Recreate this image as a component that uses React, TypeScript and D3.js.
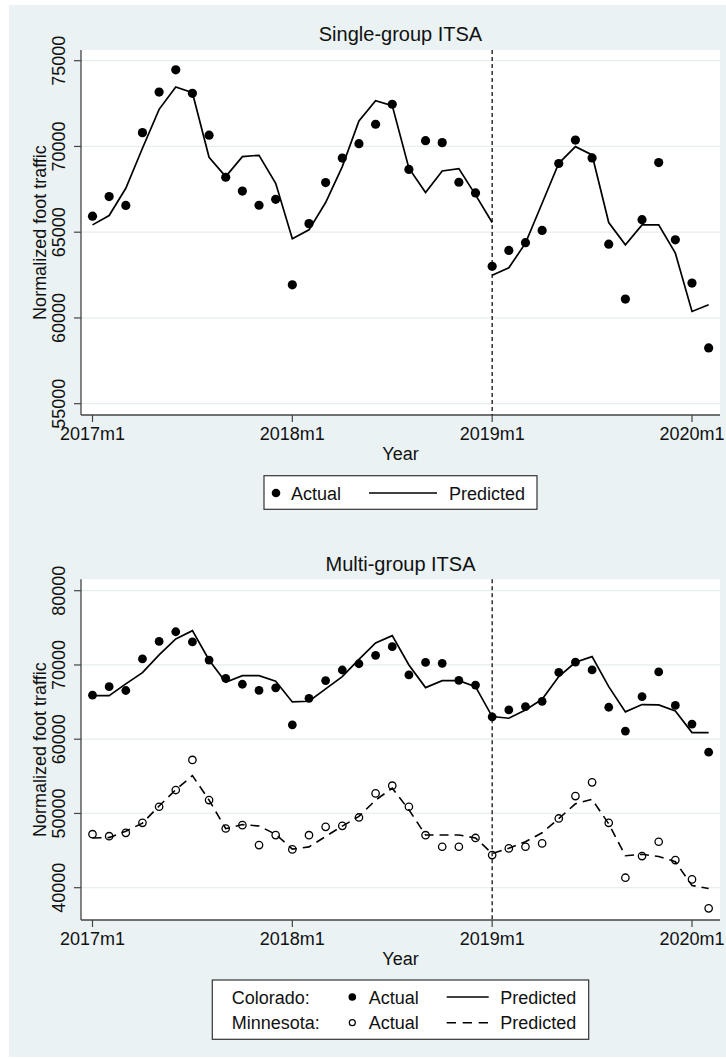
import React from "react";
import * as d3 from "d3";

// ---------- data ----------
const periods = [
  "2017m1","2017m2","2017m3","2017m4","2017m5","2017m6","2017m7","2017m8","2017m9","2017m10","2017m11","2017m12",
  "2018m1","2018m2","2018m3","2018m4","2018m5","2018m6","2018m7","2018m8","2018m9","2018m10","2018m11","2018m12",
  "2019m1","2019m2","2019m3","2019m4","2019m5","2019m6","2019m7","2019m8","2019m9","2019m10","2019m11","2019m12",
  "2020m1","2020m2",
];
const xTickLabels = ["2017m1", "2018m1", "2019m1", "2020m1"];
const interventionPeriod = "2019m1";

const coloradoActual = [
  65935, 67080, 66560, 70806, 73170, 74470, 73096, 70660, 68205, 67400, 66570, 66917,
  61930, 65500, 67893, 69320, 70160, 71295, 72460, 68662, 70336, 70223, 67912, 67290,
  63015, 63940, 64387, 65105, 69006, 70369, 69328, 64303, 61100, 65729, 69058, 64554,
  62036, 58250,
];

// single-group predicted: pre-period (2017m1..2019m1) and post-period (2019m1..2020m2)
const singlePredPre = [
  65427, 65971, 67563, 69893, 72165, 73466, 73136, 69369, 68243, 69408, 69485, 67854,
  64612, 65136, 66728, 68825, 71485, 72670, 72379, 68728, 67311, 68573, 68709, 67175,
  65563,
];
const singlePredPost = [
  62495, 62922, 64359, 66689, 69019, 69990, 69505, 65563, 64262, 65427, 65427, 63777,
  60379, 60767,
];

const coloradoPredicted = [
  65874, 65874, 67444, 68969, 71345, 73498, 74619, 70673, 67668, 68565, 68565, 67803,
  65022, 65112, 66771, 68430, 70762, 72960, 73946, 70000, 66951, 67892, 67892, 67085,
  63049, 62825, 63946, 65381, 68430, 70359, 71121, 67085, 63677, 64664, 64619, 63812,
  60897, 60897,
];

const minnesotaActual = [
  47207, 46937, 47387, 48739, 50901, 53153, 57207, 51802, 47973, 48423, 45740, 47085,
  45157, 47072, 48198, 48333, 49459, 52703, 53739, 50901, 47072, 45516, 45516, 46700,
  44395, 45291, 45516, 45964, 49324, 52342, 54189, 48739, 41345, 44260, 46188, 43722,
  41121, 37220,
];
const minnesotaPredicted = [
  46700, 46750, 47600, 48700, 51000, 53200, 55100, 51800, 47950, 48500, 48300, 47200,
  45200, 45500, 46900, 48300, 49600, 51800, 53400, 50500, 47100, 47100, 47100, 46700,
  44600, 45300, 46200, 47400, 49300, 51300, 51900, 48600, 44300, 44500, 44200, 43500,
  40300, 39900,
];

const topYTicks = [55000, 60000, 65000, 70000, 75000];
const bottomYTicks = [40000, 50000, 60000, 70000, 80000];

// ---------- layout ----------
const W = 726;
const H = 1059;
const BG = "#eaf2f3";
const GRID = "#e6eef0";
const AXIS = "#444";
const FONT = "'Liberation Sans', Arial, Helvetica, sans-serif";
const PLOT_L = 81;
const PLOT_R = 720;

const x = d3
  .scaleLinear()
  .domain([0, 36])
  .range([92.5, 692]);
const xi = (p: string) => x(periods.indexOf(p));

type Panel = {
  top: number;
  bottom: number;
  y: d3.ScaleLinear<number, number>;
  ticks: number[];
  title: string;
  titleY: number;
};

const topPanel: Panel = {
  top: 50,
  bottom: 415,
  y: d3.scaleLinear().domain([55000, 75000]).range([403.7, 60.7]),
  ticks: topYTicks,
  title: "Single-group ITSA",
  titleY: 40.5,
};
const bottomPanel: Panel = {
  top: 579.3,
  bottom: 920,
  y: d3.scaleLinear().domain([40000, 80000]).range([887.7, 590.7]),
  ticks: bottomYTicks,
  title: "Multi-group ITSA",
  titleY: 570.5,
};

function Frame({ p }: { p: Panel }) {
  const midY = (p.top + p.bottom) / 2;
  const midX = (PLOT_L + PLOT_R) / 2;
  return (
    <g>
      <rect x={PLOT_L} y={p.top} width={PLOT_R - PLOT_L} height={p.bottom - p.top} fill="#fff" />
      {p.ticks.map((t) => (
        <line key={"g" + t} x1={PLOT_L} x2={PLOT_R} y1={p.y(t)} y2={p.y(t)} stroke={GRID} strokeWidth={1.2} />
      ))}
      <text x={midX} y={p.titleY} textAnchor="middle" fontSize={20} fontFamily={FONT} fill="#111">
        {p.title}
      </text>
      {/* y axis */}
      <line x1={PLOT_L} x2={PLOT_L} y1={p.top} y2={p.bottom} stroke={AXIS} strokeWidth={1.3} />
      {p.ticks.map((t) => (
        <g key={"t" + t}>
          <line x1={PLOT_L - 7} x2={PLOT_L} y1={p.y(t)} y2={p.y(t)} stroke={AXIS} strokeWidth={1.2} />
          <text
            transform={`translate(65,${p.y(t)}) rotate(-90)`}
            textAnchor="middle"
            fontSize={18}
            fontFamily={FONT}
            fill="#111"
          >
            {t}
          </text>
        </g>
      ))}
      <text
        transform={`translate(46,${midY}) rotate(-90)`}
        textAnchor="middle"
        fontSize={18}
        fontFamily={FONT}
        fill="#111"
      >
        Normalized foot traffic
      </text>
      {/* x axis */}
      <line x1={PLOT_L} x2={PLOT_R} y1={p.bottom} y2={p.bottom} stroke={AXIS} strokeWidth={1.3} />
      {xTickLabels.map((l) => (
        <g key={l}>
          <line x1={xi(l)} x2={xi(l)} y1={p.bottom} y2={p.bottom + 7} stroke={AXIS} strokeWidth={1.2} />
          <text x={xi(l)} y={p.bottom + 25} textAnchor="middle" fontSize={18} fontFamily={FONT} fill="#111">
            {l}
          </text>
        </g>
      ))}
      <text x={midX} y={p.bottom + 45} textAnchor="middle" fontSize={18} fontFamily={FONT} fill="#111">
        Year
      </text>
      {/* intervention line */}
      <line
        x1={xi(interventionPeriod)}
        x2={xi(interventionPeriod)}
        y1={p.top}
        y2={p.bottom}
        stroke="#111"
        strokeWidth={1.3}
        strokeDasharray="4,3"
      />
    </g>
  );
}

function linePath(values: number[], startIdx: number, y: d3.ScaleLinear<number, number>) {
  const gen = d3
    .line<number>()
    .x((_, i) => x(startIdx + i))
    .y((v) => y(v));
  return gen(values) || "";
}

export default function App() {
  const tp = topPanel;
  const bp = bottomPanel;
  const postStart = periods.indexOf(interventionPeriod);
  return (
    <svg
      width={W}
      height={H}
      style={{ position: "absolute", left: 0, top: 0, background: "#fff" }}
      xmlns="http://www.w3.org/2000/svg"
    >
      <rect x={9} y={5} width={W - 9} height={1052} fill={BG} />

      {/* ---------- Top panel ---------- */}
      <Frame p={tp} />
      <path d={linePath(singlePredPre, 0, tp.y)} fill="none" stroke="#000" strokeWidth={1.7} />
      <path d={linePath(singlePredPost, postStart, tp.y)} fill="none" stroke="#000" strokeWidth={1.7} />
      {coloradoActual.map((v, i) => (
        <circle key={"ta" + i} cx={x(i)} cy={tp.y(v)} r={4.6} fill="#000" />
      ))}
      {/* top legend */}
      <rect x={264} y={475.7} width={273} height={33.6} fill="#fff" stroke="#333" strokeWidth={1.2} />
      <circle cx={276} cy={493} r={4.3} fill="#000" />
      <text x={291} y={499.5} fontSize={18} fontFamily={FONT} fill="#111">Actual</text>
      <line x1={369} x2={437} y1={493} y2={493} stroke="#000" strokeWidth={1.6} />
      <text x={449} y={499.5} fontSize={18} fontFamily={FONT} fill="#111">Predicted</text>

      {/* ---------- Bottom panel ---------- */}
      <Frame p={bp} />
      <path d={linePath(coloradoPredicted, 0, bp.y)} fill="none" stroke="#000" strokeWidth={1.7} />
      <path
        d={linePath(minnesotaPredicted, 0, bp.y)}
        fill="none"
        stroke="#000"
        strokeWidth={1.6}
        strokeDasharray="9,6"
      />
      {coloradoActual.map((v, i) => (
        <circle key={"ca" + i} cx={x(i)} cy={bp.y(v)} r={4.4} fill="#000" />
      ))}
      {minnesotaActual.map((v, i) => (
        <circle key={"ma" + i} cx={x(i)} cy={bp.y(v)} r={3.7} fill="none" stroke="#000" strokeWidth={1.3} />
      ))}
      {/* bottom legend */}
      <rect x={212.3} y={980} width={376.4} height={59.3} fill="#fff" stroke="#333" strokeWidth={1.2} />
      <text x={231.7} y={1003.5} fontSize={18} fontFamily={FONT} fill="#111">Colorado:</text>
      <text x={231.7} y={1029} fontSize={18} fontFamily={FONT} fill="#111">Minnesota:</text>
      <circle cx={352.3} cy={997} r={3.8} fill="#000" />
      <circle cx={352.3} cy={1022.7} r={3} fill="none" stroke="#000" strokeWidth={1.2} />
      <text x={368.7} y={1003.5} fontSize={18} fontFamily={FONT} fill="#111">Actual</text>
      <text x={368.7} y={1029} fontSize={18} fontFamily={FONT} fill="#111">Actual</text>
      <line x1={446.7} x2={488.7} y1={997} y2={997} stroke="#000" strokeWidth={1.6} />
      <line x1={446.7} x2={488.7} y1={1022.7} y2={1022.7} stroke="#000" strokeWidth={1.6} strokeDasharray="9.3,6.7" />
      <text x={500.3} y={1003.5} fontSize={18} fontFamily={FONT} fill="#111">Predicted</text>
      <text x={500.3} y={1029} fontSize={18} fontFamily={FONT} fill="#111">Predicted</text>
    </svg>
  );
}
